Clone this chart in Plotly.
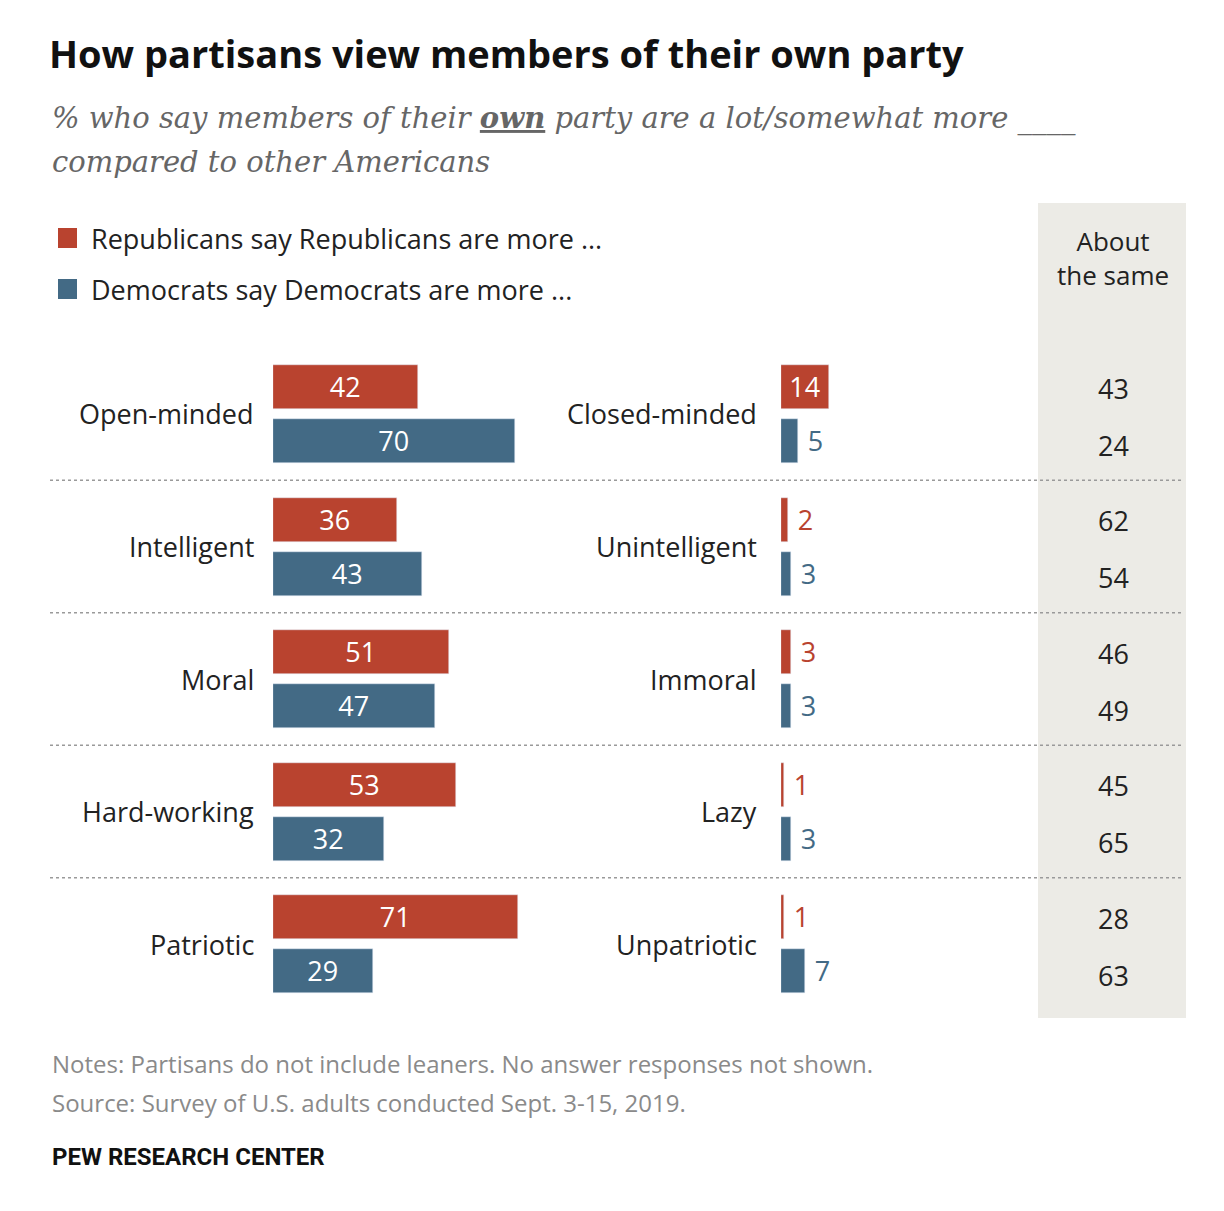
import plotly.graph_objects as go

W, H = 1224, 1211
traits_pos = ["Open-minded", "Intelligent", "Moral", "Hard-working", "Patriotic"]
traits_neg = ["Closed-minded", "Unintelligent", "Immoral", "Lazy", "Unpatriotic"]
rep_pos = [42, 36, 51, 53, 71]
dem_pos = [70, 43, 47, 32, 29]
rep_neg = [14, 2, 3, 1, 1]
dem_neg = [5, 3, 3, 3, 7]
rep_same = [43, 62, 46, 45, 28]
dem_same = [24, 54, 49, 65, 63]

RED, BLUE = "#b9432f", "#436a85"
FONT = "Open Sans"
PXU = 3.457
OFF = 8
row0, rowstep, sub = 387, 132.5, 54
ry = [row0 + i*rowstep for i in range(5)]
by = [y + sub for y in ry]

def xp(px): return (px - OFF) / W
def yp(py): return 1 - (py - OFF) / H

fig = go.Figure()
def bars(vals, ys, color, axis, small_out):
    pos = ["outside" if (small_out and v < 10) else "inside" for v in vals]
    txt = [(" " + str(v)) if p == "outside" else str(v) for v, p in zip(vals, pos)]
    fig.add_trace(go.Bar(x=vals, y=ys, orientation="h", width=44, marker_color=color,
        xaxis=axis, yaxis="y", text=txt, textposition=pos,
        insidetextanchor="middle", insidetextfont=dict(color="white", size=27, family=FONT),
        outsidetextfont=dict(color=color, size=27, family=FONT), cliponaxis=False,
        showlegend=False, hoverinfo="skip"))
bars(rep_pos, ry, RED, "x", False)
bars(dem_pos, by, BLUE, "x", False)
bars(rep_neg, ry, RED, "x2", True)
bars(dem_neg, by, BLUE, "x2", True)

fig.update_layout(
    width=W, height=H, margin=dict(l=0, r=0, t=0, b=0), plot_bgcolor="rgba(0,0,0,0)", paper_bgcolor="white",
    xaxis=dict(domain=[xp(273), 1], range=[0, (W + OFF - 273)/PXU], visible=False),
    xaxis2=dict(domain=[xp(781), 1], range=[0, (W + OFF - 781)/PXU], visible=False),
    yaxis=dict(domain=[0, 1], range=[H + OFF, OFF], visible=False),
    bargap=0,
)
shapes = [dict(type="rect", xref="paper", yref="paper", x0=xp(1038), x1=xp(1186), y0=yp(1018), y1=yp(203),
               fillcolor="#ecebe6", line_width=0, layer="below")]
for i in range(4):
    y = (by[i] + ry[i+1]) / 2
    shapes.append(dict(type="line", xref="paper", yref="paper", x0=xp(50), x1=xp(1183), y0=yp(y), y1=yp(y),
                       line=dict(color="#9a9a9a", width=1.5, dash="dot")))
for yy, c in [(238, RED), (289, BLUE)]:
    shapes.append(dict(type="rect", xref="paper", yref="paper", x0=xp(58), x1=xp(77), y0=yp(yy+10), y1=yp(yy-10),
                       fillcolor=c, line_width=0))
fig.update_layout(shapes=shapes)

ann = []
def A(x, y, t, size, color="#222", xa="left", family=FONT, align="left"):
    ann.append(dict(x=xp(x), y=yp(y), xref="paper", yref="paper", text=t, showarrow=False, xanchor=xa,
                    yanchor="middle", font=dict(size=size, color=color, family=family), align=align))
A(47, 53, "<b>How partisans view members of their own party</b>", 38, "#111")
A(50, 118, "<i>% who say members of their <b><u>own</u></b> party are a lot/somewhat more ____</i>", 29, "#666", family="DejaVu Serif")
A(50, 162, "<i>compared to other Americans</i>", 29, "#666", family="DejaVu Serif")
A(89, 238, "Republicans say Republicans are more ...", 27)
A(89, 289, "Democrats say Democrats are more ...", 27)
A(1113, 258, "About<br>the same", 26, xa="center", align="center")
for i in range(5):
    mid = (ry[i] + by[i]) / 2
    A(256, mid, traits_pos[i], 27, "#222", xa="right")
    A(759, mid, traits_neg[i], 27, "#222", xa="right")
    A(1113, ry[i]+1, str(rep_same[i]), 27, "#222", xa="center")
    A(1113, by[i]+4, str(dem_same[i]), 27, "#222", xa="center")
A(50, 1063, "Notes: Partisans do not include leaners. No answer responses not shown.", 24, "#8a8a8a")
A(50, 1102, "Source: Survey of U.S. adults conducted Sept. 3-15, 2019.", 24, "#8a8a8a")
A(50, 1157, "<b>PEW RESEARCH CENTER</b>", 24, "#111", family="Roboto")
fig.update_layout(annotations=ann)
fig.write_html("out.html")
